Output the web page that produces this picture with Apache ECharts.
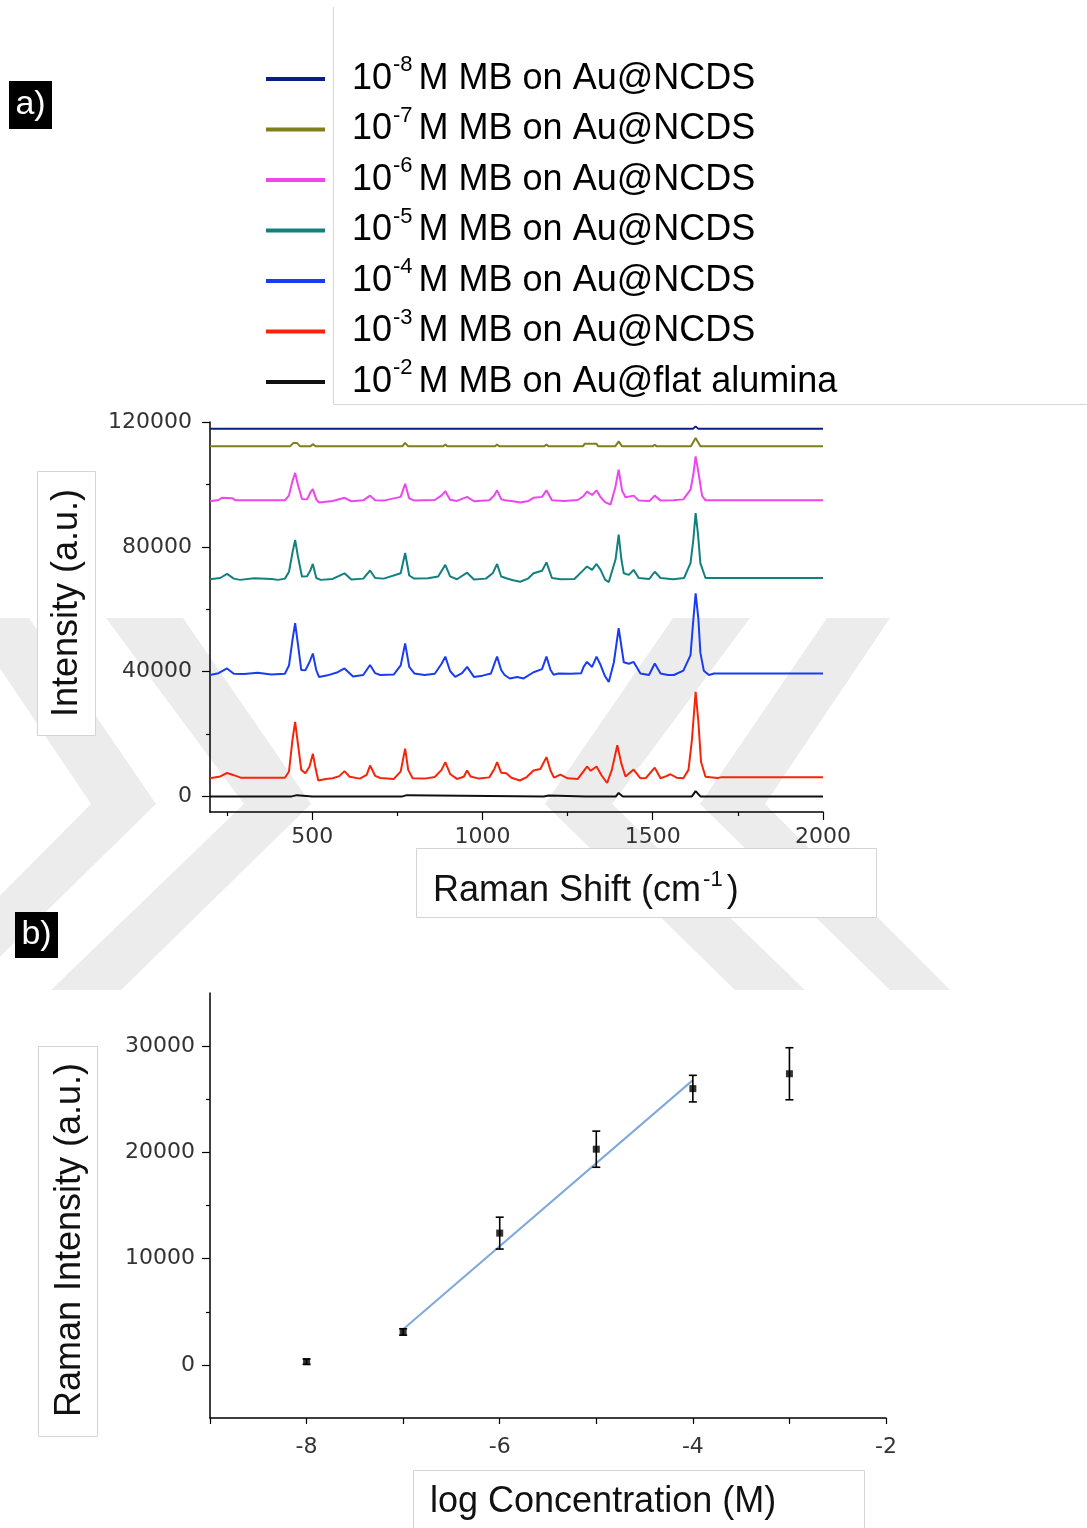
<!DOCTYPE html>
<html>
<head>
<meta charset="utf-8">
<script src="https://cdn.jsdelivr.net/npm/echarts@6/dist/echarts.min.js"></script>
<style>
  html, body { margin: 0; padding: 0; background: #fff; }
  #chart { width: 1087px; height: 1528px; }
</style>
</head>
<body>
<div id="chart"></div>
<script>
// ---------- Panel a: SERS spectra of methylene blue (stacked) ----------
const ramanLabelTicks = [500, 1000, 1500, 2000];
const ramanMinorTicks = [250, 750, 1250, 1750];
const intensityLabelTicks = [0, 40000, 80000, 120000];
const intensityMinorTicks = [20000, 60000, 100000];

const exponents = ['-8', '-7', '-6', '-5', '-4', '-3', '-2'];
const substrates = ['Au@NCDS', 'Au@NCDS', 'Au@NCDS', 'Au@NCDS', 'Au@NCDS', 'Au@NCDS', 'Au@flat alumina'];
const spectrumColors = ['#0b1f80', '#80801a', '#ee45ee', '#138080', '#1a3cf0', '#f5250a', '#111111'];

// [Raman shift (cm-1), intensity (a.u.)]
const spec1e8 = [[200,117800],[445,117800],[450,118400],[455,117800],[1395,117800],[1400,118400],[1405,117800],[1618,117800],[1626,118600],[1634,117800],[2000,117800]];

const spec1e7 = [[200,112200],[435,112200],[445,113300],[455,113300],[465,112200],[495,112200],[502,112900],[510,112200],[765,112200],[773,113300],[782,112200],[885,112200],[891,112800],[897,112200],[1037,112200],[1043,112800],[1049,112200],[1182,112200],[1188,112800],[1194,112200],[1295,112200],[1300,113000],[1335,113000],[1340,112200],[1390,112200],[1400,113800],[1410,112200],[1500,112200],[1506,112700],[1512,112200],[1612,112200],[1626,114900],[1640,112200],[2000,112200]];

const spec1e6 = [[200,94600],[225,95000],[235,95700],[265,95600],[275,94900],[420,94900],[432,96500],[442,101000],[450,103700],[458,100000],[470,95300],[485,95200],[495,97500],[502,98500],[512,95200],[520,94200],[560,94700],[595,95700],[615,94600],[650,94900],[670,96400],[685,94900],[710,94800],[760,96000],[773,100200],[785,95500],[800,94800],[860,95000],[880,96500],[891,97800],[905,95100],[925,94700],[955,96000],[975,94600],[1020,94900],[1035,96500],[1043,98100],[1055,95300],[1065,94900],[1090,94600],[1111,94200],[1135,94700],[1150,95700],[1175,96000],[1188,98100],[1204,94900],[1240,94700],[1280,95000],[1297,96300],[1307,97700],[1322,96600],[1335,98100],[1347,95900],[1360,94300],[1376,93500],[1390,99000],[1400,104700],[1410,98000],[1420,95900],[1444,96400],[1459,94800],[1490,94700],[1506,96400],[1523,94800],[1560,94900],[1590,95200],[1611,98300],[1619,103000],[1626,109000],[1634,104000],[1645,96300],[1655,94900],[2000,94900]];

const spec1e5 = [[200,69600],[230,70000],[250,71300],[270,69800],[288,69400],[330,69900],[381,69700],[400,69400],[420,69800],[432,72000],[442,78000],[450,82200],[458,77000],[470,70500],[485,70600],[495,72500],[502,74500],[512,70000],[525,69400],[560,69700],[595,71500],[615,69500],[650,69800],[670,72400],[685,70000],[710,69800],[760,71500],[773,78000],[785,70800],[800,69800],[840,69900],[870,70500],[891,74200],[905,70500],[925,69600],[955,71700],[975,69500],[1010,69800],[1030,71500],[1043,74500],[1055,70500],[1070,69900],[1090,69300],[1111,68800],[1135,69900],[1150,71500],[1175,72300],[1188,75000],[1204,70000],[1230,69600],[1270,69700],[1297,72600],[1307,73700],[1322,72600],[1335,74500],[1347,72600],[1360,69500],[1371,68700],[1391,76000],[1400,83900],[1408,76000],[1415,71500],[1430,71000],[1444,72600],[1459,70000],[1490,69700],[1506,72000],[1523,70000],[1560,69600],[1592,70000],[1611,74800],[1619,82000],[1626,90800],[1633,84000],[1640,74700],[1655,70000],[2000,70000]];

const spec1e4 = [[200,38900],[225,39500],[250,41000],[270,39300],[300,39200],[340,39600],[380,39100],[420,39300],[432,42000],[442,50000],[450,55500],[458,49000],[468,40500],[480,40400],[492,43000],[502,45800],[512,40500],[520,38300],[545,38800],[575,39800],[595,41000],[620,38400],[650,38900],[670,42100],[685,39500],[700,38900],[740,39100],[760,42000],[773,49000],[785,41500],[800,39400],[830,38900],[860,39300],[880,42500],[891,44800],[905,40200],[920,38300],[940,39500],[955,41500],[975,38300],[1000,38700],[1025,39400],[1035,42500],[1043,44800],[1055,40500],[1065,38900],[1080,37800],[1102,38300],[1121,37800],[1150,39800],[1175,40800],[1188,44800],[1200,40500],[1209,39000],[1223,39400],[1260,39300],[1290,39500],[1297,41500],[1307,43100],[1322,41500],[1335,44800],[1347,42100],[1360,38500],[1371,36700],[1386,43000],[1400,53900],[1415,43000],[1430,42500],[1444,43100],[1464,39400],[1489,38900],[1506,42600],[1523,39400],[1545,38900],[1562,38900],[1590,40300],[1611,45300],[1618,55000],[1626,65100],[1634,57000],[1640,46000],[1650,40300],[1665,38900],[1680,39400],[2000,39400]];

const spec1e3 = [[200,5800],[230,6400],[250,7500],[270,6800],[290,6000],[420,6000],[432,8000],[442,18000],[450,23900],[458,17000],[468,8500],[480,7400],[492,9500],[502,13700],[510,9000],[518,5100],[540,5600],[560,5800],[580,6500],[595,8100],[610,6300],[640,5700],[660,6900],[670,9900],[685,6600],[700,5900],[740,5600],[760,8000],[773,15300],[782,8500],[795,5800],[830,5700],[860,6200],[880,8500],[891,11000],[905,7200],[925,5600],[945,6300],[955,8300],[965,6400],[990,5700],[1020,6100],[1035,8800],[1043,11000],[1055,7600],[1070,7400],[1085,6000],[1110,5100],[1130,6200],[1150,8300],[1170,8800],[1188,12600],[1200,8200],[1210,6000],[1229,7000],[1250,5800],[1280,5600],[1300,8500],[1307,9600],[1318,8200],[1335,9600],[1350,6700],[1366,4300],[1380,8500],[1396,16400],[1408,10500],[1420,6400],[1444,8600],[1464,5800],[1480,5900],[1506,9200],[1523,5800],[1540,6500],[1552,7100],[1570,6000],[1590,5800],[1605,8500],[1615,18000],[1626,33500],[1634,24000],[1642,11000],[1655,6300],[1690,5900],[1700,6100],[2000,6100]];

const spec1e2 = [[200,0],[440,0],[445,400],[455,400],[460,0],[500,0],[502,300],[505,0],[765,0],[770,400],[778,400],[782,0],[1180,0],[1185,300],[1195,300],[1200,0],[1303,0],[1307,300],[1311,0],[1392,0],[1400,1100],[1412,0],[1504,0],[1506,300],[1508,0],[1615,0],[1626,1700],[1640,0],[2000,0]];

const spectra = [spec1e8, spec1e7, spec1e6, spec1e5, spec1e4, spec1e3, spec1e2];

// ---------- Panel b: calibration of the 1626 cm-1 band ----------
const logConcentration = [-8, -7, -6, -5, -4, -3];
const ramanIntensity = [300, 3100, 12400, 20300, 26000, 27400];
const intensityError = [250, 300, 1500, 1700, 1250, 2450];
const fitLogConc = [-7, -4];
const fitIntensity = [3350, 26800];
const calibLabelTicks = [0, 10000, 20000, 30000];
const calibMinorTicks = [5000, 15000, 25000];

// ---------- styling helpers ----------
const FONT = '"Liberation Sans", Arial, sans-serif';
const TICK_FONT = '"DejaVu Sans", "Liberation Sans", sans-serif';
const seriesNames = exponents.map((e, i) => '10^' + e + 'M MB on ' + substrates[i]);

const tickLabelStyle = { color: '#333', fontSize: 22, fontFamily: TICK_FONT, formatter: v => String(v) };
const lineStyleAxis = { color: '#000', width: 1.5 };

function majorAxis(extra) {
  return Object.assign({
    type: 'value',
    splitLine: { show: false },
    axisLine: { show: true, onZero: false, lineStyle: lineStyleAxis },
  }, extra);
}
function minorAxis(extra, values) {
  return Object.assign({
    type: 'value',
    splitLine: { show: false },
    axisLine: { show: false, onZero: false },
    axisLabel: { show: false },
    axisTick: { show: true, length: 4, customValues: values, lineStyle: { color: '#000', width: 1.2 } }
  }, extra);
}

const spectrumSeries = spectra.map((d, i) => ({
  name: seriesNames[i],
  type: 'line',
  xAxisIndex: 0,
  yAxisIndex: 0,
  data: d,
  showSymbol: false,
  symbol: 'none',
  color: spectrumColors[i],
  lineStyle: { width: 2, color: spectrumColors[i] },
  z: 3
}));

const errorData = logConcentration.map((x, i) => [x, ramanIntensity[i] - intensityError[i], ramanIntensity[i] + intensityError[i]]);

function titleBox(x, y, w, h) {
  return { type: 'rect', shape: { x: x, y: y, width: w, height: h }, style: { fill: '#fff', stroke: '#d4d4d4', lineWidth: 1 }, z: 1 };
}

// faint background emblem made of chevron bands
const WM = '#ececec';
function band(points) {
  return { type: 'polygon', shape: { points: points }, style: { fill: WM }, z: -10, silent: true };
}
const emblem = [
  band([[-34,618],[29,618],[156,804],[-34,990],[-94,990],[91,804]]),
  band([[106,618],[183,618],[311,804],[121,990],[51,990],[244,804]]),
  band([[673,618],[750,618],[612,804],[805,990],[735,990],[545,804]]),
  band([[827,618],[890,618],[765,804],[950,990],[890,990],[700,804]])
];

const option = {
  backgroundColor: '#fff',
  animation: false,
  grid: [
    { left: 210, top: 422, width: 613, height: 390 },
    { left: 210, top: 993, width: 676, height: 425 }
  ],
  legend: {
    data: seriesNames,
    orient: 'vertical',
    left: 266,
    top: 54,
    padding: 0,
    itemGap: 7.5,
    itemWidth: 59,
    itemHeight: 4,
    icon: 'rect',
    selectedMode: false,
    formatter: function (name) {
      const i = seriesNames.indexOf(name);
      return '{b|10}{s|' + exponents[i] + '}{m|M MB on ' + substrates[i] + '}';
    },
    textStyle: {
      rich: {
        b: { fontSize: 36, fontFamily: FONT, color: '#000', lineHeight: 50, padding: [0, 0, 0, 22] },
        s: { fontSize: 22, fontFamily: FONT, color: '#000', lineHeight: 17, verticalAlign: 'top', padding: [0, 6, 0, 1] },
        m: { fontSize: 36, fontFamily: FONT, color: '#000', lineHeight: 50 }
      }
    }
  },
  xAxis: [
    majorAxis({
      gridIndex: 0, min: 200, max: 2000,
      axisTick: { show: true, length: 8, customValues: ramanLabelTicks, lineStyle: { color: '#000', width: 1.2 } },
      axisLabel: Object.assign({ customValues: ramanLabelTicks, margin: 14 }, tickLabelStyle)
    }),
    minorAxis({ gridIndex: 0, min: 200, max: 2000, position: 'bottom' }, ramanMinorTicks),
    majorAxis({
      gridIndex: 1, min: -9, max: -2, interval: 1,
      axisTick: { show: true, length: 6, lineStyle: { color: '#000', width: 1.2 } },
      axisLabel: Object.assign({}, tickLabelStyle, {
        margin: 18,
        showMinLabel: true,
        formatter: function (v) { return (v % 2 === 0) ? String(v) : ''; }
      })
    })
  ],
  yAxis: [
    majorAxis({
      gridIndex: 0, min: -5000, max: 120000,
      axisTick: { show: true, length: 8, customValues: intensityLabelTicks, lineStyle: { color: '#000', width: 1.2 } },
      axisLabel: Object.assign({ customValues: intensityLabelTicks, margin: 18 }, tickLabelStyle)
    }),
    minorAxis({ gridIndex: 0, min: -5000, max: 120000, position: 'left' }, intensityMinorTicks),
    majorAxis({
      gridIndex: 1, min: -5000, max: 35000,
      axisTick: { show: true, length: 8, customValues: calibLabelTicks, lineStyle: { color: '#000', width: 1.2 } },
      axisLabel: Object.assign({ customValues: calibLabelTicks, margin: 15 }, tickLabelStyle)
    }),
    minorAxis({ gridIndex: 1, min: -5000, max: 35000, position: 'left' }, calibMinorTicks)
  ],
  series: spectrumSeries.concat([
    {
      name: 'linear fit',
      type: 'line',
      xAxisIndex: 2,
      yAxisIndex: 2,
      data: fitLogConc.map((x, i) => [x, fitIntensity[i]]),
      showSymbol: false,
      symbol: 'none',
      lineStyle: { color: '#7fa8dc', width: 2 },
      z: 2
    },
    {
      name: 'error bars',
      type: 'custom',
      xAxisIndex: 2,
      yAxisIndex: 2,
      data: errorData,
      renderItem: function (params, api) {
        const x = api.value(0);
        const top = api.coord([x, api.value(2)]);
        const bot = api.coord([x, api.value(1)]);
        const cap = 4;
        const st = { stroke: '#000', lineWidth: 1.6 };
        return {
          type: 'group',
          children: [
            { type: 'line', shape: { x1: top[0], y1: top[1], x2: bot[0], y2: bot[1] }, style: st },
            { type: 'line', shape: { x1: top[0] - cap, y1: top[1], x2: top[0] + cap, y2: top[1] }, style: st },
            { type: 'line', shape: { x1: bot[0] - cap, y1: bot[1], x2: bot[0] + cap, y2: bot[1] }, style: st }
          ]
        };
      },
      z: 3
    },
    {
      name: 'intensity at 1626',
      type: 'scatter',
      xAxisIndex: 2,
      yAxisIndex: 2,
      data: logConcentration.map((x, i) => [x, ramanIntensity[i]]),
      symbol: 'rect',
      symbolSize: 7,
      itemStyle: { color: '#000' },
      z: 4
    }
  ]),
  graphic: emblem.concat([
    // panel tags
    { type: 'rect', shape: { x: 9, y: 81, width: 43, height: 48 }, style: { fill: '#000' } },
    { type: 'text', x: 30.5, y: 105, style: { text: 'a)', fill: '#fff', font: '34px ' + FONT, align: 'center', verticalAlign: 'middle' } },
    { type: 'rect', shape: { x: 15, y: 912, width: 43, height: 46 }, style: { fill: '#000' } },
    { type: 'text', x: 36.5, y: 935, style: { text: 'b)', fill: '#fff', font: '34px ' + FONT, align: 'center', verticalAlign: 'middle' } },
    // legend frame
    { type: 'line', shape: { x1: 333.5, y1: 7, x2: 333.5, y2: 404.5 }, style: { stroke: '#d8d8d8', lineWidth: 1 } },
    { type: 'line', shape: { x1: 333.5, y1: 404.5, x2: 1087, y2: 404.5 }, style: { stroke: '#d8d8d8', lineWidth: 1 } },
    // axis titles, panel a
    titleBox(37.5, 471.5, 58, 264),
    { type: 'text', x: 67, y: 603, rotation: Math.PI / 2, z: 2,
      style: { text: 'Intensity (a.u.)', fill: '#111', font: '36px ' + FONT, align: 'center', verticalAlign: 'middle' } },
    titleBox(416.5, 848.5, 460, 69),
    { type: 'text', x: 433, y: 891, z: 2,
      style: {
        text: '{m|Raman Shift (cm}{s|-1}{m|)}', align: 'left', verticalAlign: 'middle',
        rich: {
          m: { fontSize: 36, fontFamily: FONT, fill: '#111', lineHeight: 44 },
          s: { fontSize: 22, fontFamily: FONT, fill: '#111', lineHeight: 12, verticalAlign: 'top', padding: [0, 4, 0, 2] }
        }
      } },
    // axis titles, panel b
    titleBox(38.5, 1046.5, 59, 390),
    { type: 'text', x: 70, y: 1240, rotation: Math.PI / 2, z: 2,
      style: { text: 'Raman Intensity (a.u.)', fill: '#111', font: '36px ' + FONT, align: 'center', verticalAlign: 'middle' } },
    titleBox(413.5, 1470.5, 451, 70),
    { type: 'text', x: 430, y: 1502, z: 2,
      style: { text: 'log Concentration (M)', fill: '#111', font: '36px ' + FONT, align: 'left', verticalAlign: 'middle' } }
  ])
};

const chart = echarts.init(document.getElementById('chart'));
chart.setOption(option);
</script>
</body>
</html>
